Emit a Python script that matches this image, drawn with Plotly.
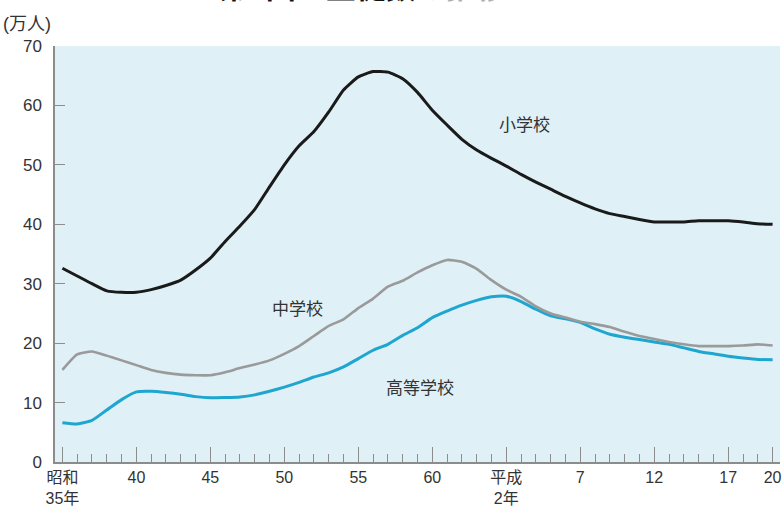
import plotly.graph_objects as go

# 生徒数（万人）, 昭和35年(1960)〜平成20年(2008)
years = list(range(1960, 2009))

elementary = [32.6, 31.3, 30.0, 28.8, 28.55, 28.55, 29.0, 29.7, 30.6, 32.3,
              34.3, 37.1, 39.7, 42.5, 46.3, 50.0, 53.2, 55.6, 58.9, 62.6,
              64.8, 65.7, 65.6, 64.5, 62.2, 59.2, 56.7, 54.3, 52.5, 51.1,
              49.8, 48.4, 47.1, 45.9, 44.7, 43.6, 42.6, 41.8, 41.3, 40.8,
              40.4, 40.4, 40.4, 40.6, 40.6, 40.6, 40.4, 40.1, 40.0]

junior_high = [15.5, 18.1, 18.6, 17.9, 17.1, 16.3, 15.5, 15.0, 14.7, 14.6,
               14.6, 15.1, 15.8, 16.4, 17.1, 18.2, 19.5, 21.2, 22.9, 24.0,
               25.9, 27.5, 29.5, 30.5, 31.9, 33.1, 34.0, 33.7, 32.5, 30.6,
               29.0, 27.8, 26.2, 25.0, 24.3, 23.6, 23.2, 22.7, 21.9, 21.2,
               20.7, 20.2, 19.8, 19.5, 19.5, 19.5, 19.6, 19.8, 19.6]

high_school = [6.6, 6.4, 7.0, 8.75, 10.5, 11.8, 11.9, 11.7, 11.4, 11.0,
               10.8, 10.85, 10.95, 11.3, 11.9, 12.6, 13.4, 14.3, 15.0, 16.0,
               17.4, 18.8, 19.8, 21.3, 22.6, 24.3, 25.4, 26.4, 27.2, 27.8,
               27.9, 27.0, 25.7, 24.6, 24.1, 23.5, 22.4, 21.5, 21.0, 20.6,
               20.2, 19.8, 19.2, 18.6, 18.2, 17.8, 17.5, 17.25, 17.2]

tick_years = [1960, 1965, 1970, 1975, 1980, 1985, 1990, 1995, 2000, 2005, 2008]
tick_labels = ["昭和<br>35年", "40", "45", "50", "55", "60",
               "平成<br>2年", "7", "12", "17", "20"]

series_names = ["小学校", "中学校", "高等学校"]

FONT = "Liberation Sans, Noto Sans CJK JP, sans-serif"
AXIS_GREY = "#8c8c8c"
TEXT = "#333333"

fig = go.Figure()
fig.add_trace(go.Scatter(x=years, y=high_school, mode="lines", name=series_names[2],
                         line=dict(color="#1ea6d1", width=3, shape="spline", smoothing=0.5)))
fig.add_trace(go.Scatter(x=years, y=junior_high, mode="lines", name=series_names[1],
                         line=dict(color="#9a9a9a", width=2.6, shape="spline", smoothing=0.5)))
fig.add_trace(go.Scatter(x=years, y=elementary, mode="lines", name=series_names[0],
                         line=dict(color="#1a1a1a", width=3, shape="spline", smoothing=0.5)))

# series labels placed beside each line
label_pos = [(1991.2, 56.7), (1975.9, 25.6), (1984.2, 12.45)]
for name, (lx, ly) in zip(series_names, label_pos):
    fig.add_annotation(x=lx, y=ly, xref="x", yref="y", text=name, showarrow=False,
                       font=dict(family=FONT, size=17, color=TEXT))

# unit label
fig.add_annotation(x=-0.074, y=1.052, xref="paper", yref="paper", text="(万人)",
                   xanchor="left", yanchor="middle", showarrow=False,
                   font=dict(family=FONT, size=18, color=TEXT))

# figure title (sits against the top edge)
fig.add_annotation(x=0.2234, y=1.0952, xref="paper", yref="paper",
                   text="<b>第1図　生徒数</b><span style='color:#b0b0b0'><b>の推移</b></span>",
                   xanchor="left", yanchor="bottom", showarrow=False,
                   font=dict(family=FONT, size=30, color="#111111"))

fig.update_layout(
    width=784, height=506,
    margin=dict(l=55, r=4, t=46, b=44),
    paper_bgcolor="white",
    plot_bgcolor="#dff0f6",
    showlegend=False,
    font=dict(family=FONT, color=TEXT),
)

fig.update_xaxes(
    range=[1959.5, 2008.5], automargin=False,
    tickmode="array", tickvals=tick_years, ticktext=tick_labels,
    ticks="inside", ticklen=15, tickwidth=1, tickcolor=AXIS_GREY,
    minor=dict(ticks="inside", ticklen=8, tickwidth=1, tickcolor=AXIS_GREY,
               dtick=1, tick0=1960, showgrid=False),
    showline=True, linecolor=AXIS_GREY, linewidth=1.5,
    showgrid=False, zeroline=False,
    ticklabelstandoff=0,
    tickfont=dict(family=FONT, size=16, color=TEXT),
)

fig.update_yaxes(
    range=[0, 70], dtick=10, tick0=0, automargin=False,
    ticks="inside", ticklen=10, tickwidth=1.2, tickcolor=AXIS_GREY,
    showline=True, linecolor=AXIS_GREY, linewidth=1.5,
    showgrid=False, zeroline=False,
    ticklabelstandoff=8,
    tickfont=dict(family=FONT, size=17, color=TEXT),
)

fig.write_html("out.html")
